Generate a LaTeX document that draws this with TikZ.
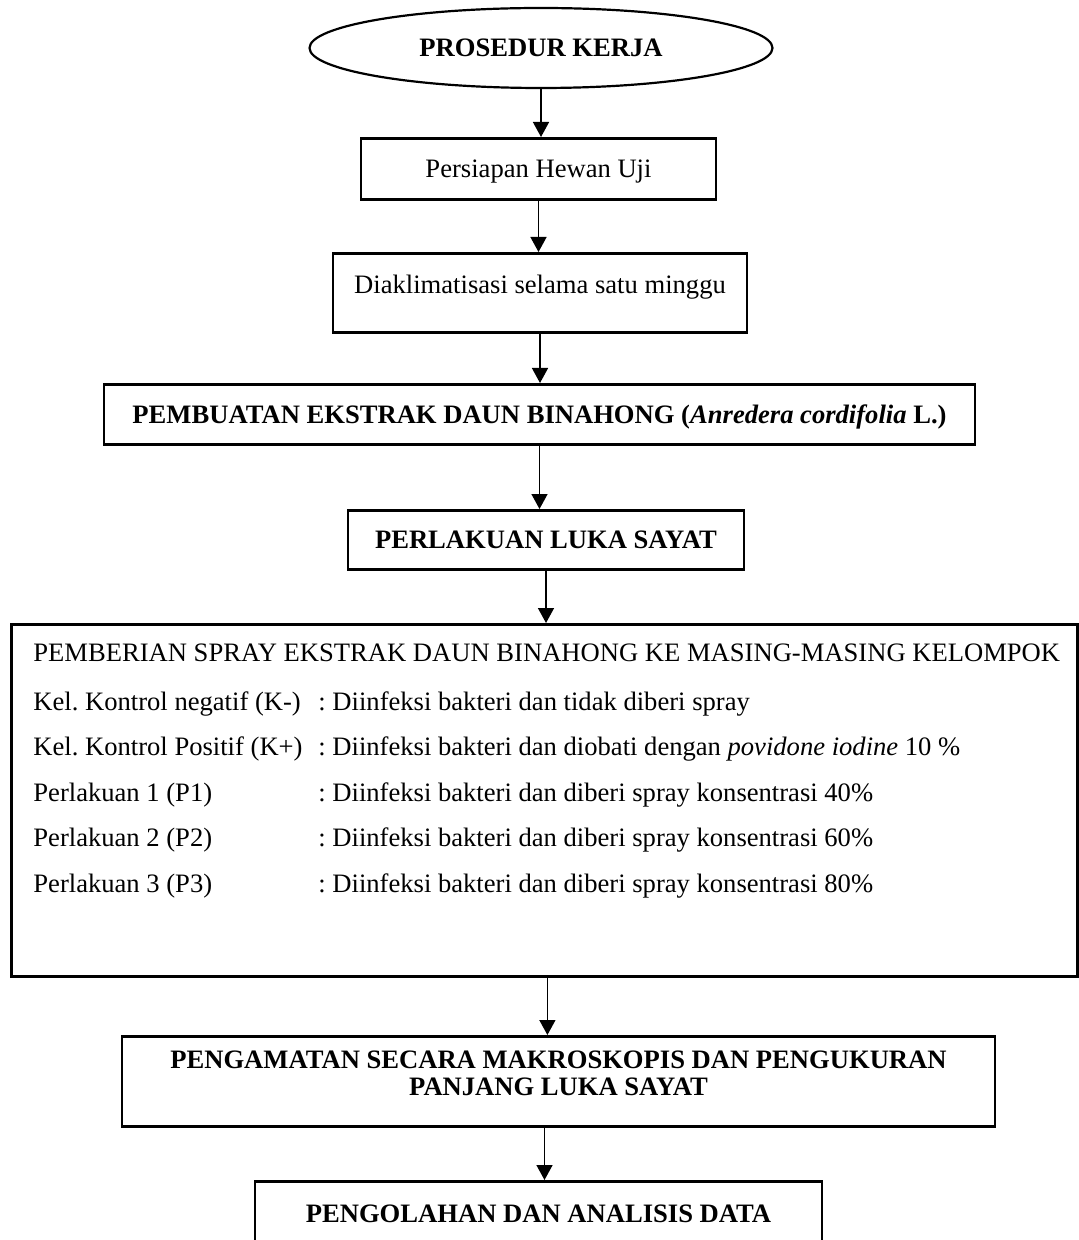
\documentclass[tikz,border=0pt]{standalone}
\usepackage{fontspec}
\setmainfont{Liberation Serif}
\usetikzlibrary{arrows.meta,shapes.geometric}
\frenchspacing

\begin{document}
\begin{tikzpicture}[x=0.5pt,y=-0.5pt,>={Triangle[width=8pt,length=7.5pt]},
  font=\fontsize{13.3}{16}\selectfont,
  kotak/.style={draw,line width=1.4pt,inner sep=0pt,anchor=north},
  tebal/.style={font=\fontsize{13.3}{13.3}\selectfont\bfseries},
  panah/.style={->,line width=0.75pt}]
\useasboundingbox (0,0) rectangle (1078,1240);

\node[draw,ellipse,line width=1.1pt,inner sep=0pt,minimum width=231.5pt,minimum height=40pt,tebal] (mulai) at (541,48) {PROSEDUR KERJA};

\node[kotak,minimum width=177.5pt,text height=19.5pt,text depth=11pt] (hewan) at (538.5,137) {Persiapan Hewan Uji};
\node[kotak,minimum width=207pt,text height=20pt,text depth=19.5pt] (aklimatisasi) at (540,252) {Diaklimatisasi selama satu minggu};
\node[kotak,minimum width=435.5pt,text height=19.5pt,text depth=10.5pt,tebal] (ekstrak) at (539.5,383) {PEMBUATAN EKSTRAK DAUN BINAHONG (\textit{Anredera cordifolia} L.)};
\node[kotak,minimum width=198pt,text height=19pt,text depth=10.5pt,tebal] (luka) at (546,509) {PERLAKUAN LUKA SAYAT};

% kotak perlakuan per kelompok
\node[draw,line width=1.4pt,inner sep=0pt,anchor=north west,minimum width=533pt,minimum height=176pt] (kelompok) at (10,623) {};
\node[anchor=base west,align=left,inner sep=0pt,font=\fontsize{13.3}{22.75}\selectfont] (isi) at (33,892) {%
PEMBERIAN SPRAY EKSTRAK DAUN BINAHONG KE MASING-MASING KELOMPOK\\[1.75pt]
\makebox[142.5pt][l]{Kel. Kontrol negatif (K-)}: Diinfeksi bakteri dan tidak diberi spray\\
\makebox[142.5pt][l]{Kel. Kontrol Positif (K+)}: Diinfeksi bakteri dan diobati dengan \textit{povidone iodine} 10 \%\\
\makebox[142.5pt][l]{Perlakuan 1 (P1)}: Diinfeksi bakteri dan diberi spray konsentrasi 40\%\\
\makebox[142.5pt][l]{Perlakuan 2 (P2)}: Diinfeksi bakteri dan diberi spray konsentrasi 60\%\\
\makebox[142.5pt][l]{Perlakuan 3 (P3)}: Diinfeksi bakteri dan diberi spray konsentrasi 80\%};

\node[kotak,minimum width=436.5pt,align=center,text height=29.5pt,text depth=15.5pt,tebal] (pengamatan) at (558.5,1035) {PENGAMATAN SECARA MAKROSKOPIS DAN PENGUKURAN\\PANJANG LUKA SAYAT};
\node[kotak,minimum width=283.5pt,text height=20.5pt,text depth=20pt,tebal] (analisis) at (538.5,1180) {PENGOLAHAN DAN ANALISIS DATA};

\draw[panah] (mulai.south) -- (mulai.south |- hewan.north);
\draw[panah] (hewan.south) -- (hewan.south |- aklimatisasi.north);
\draw[panah] (aklimatisasi.south) -- (aklimatisasi.south |- ekstrak.north);
\draw[panah] (ekstrak.south) -- (ekstrak.south |- luka.north);
\draw[panah] (luka.south) -- (luka.south |- kelompok.north);
\draw[panah] ([xshift=1.5pt]kelompok.south) -- ([xshift=1.5pt]kelompok.south |- pengamatan.north);
\draw[panah] (pengamatan.south -| analisis.north) ++(6,0) coordinate (ujung) (ujung) -- (ujung |- analisis.north);
\end{tikzpicture}
\end{document}
